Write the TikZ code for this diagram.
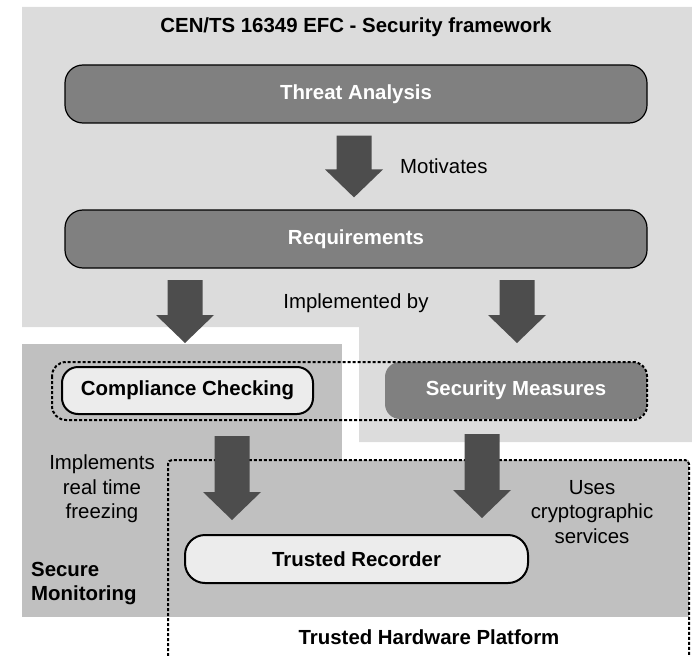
\documentclass[tikz,border=0pt]{standalone}
\usepackage{fontspec}
\setmainfont{Liberation Sans}
\usetikzlibrary{calc}
\definecolor{lightbg}{HTML}{DCDCDC}
\definecolor{midbg}{HTML}{C0C0C0}
\definecolor{boxdark}{HTML}{808080}
\definecolor{boxlight}{HTML}{ECECEC}
\definecolor{arrowc}{HTML}{4D4D4D}
\newcommand\blkarrow[2]{\fill[arrowc] let \p1=(#1), \p2=(#2) in
  (\x1-17.5pt,\y1) -- (\x1+17.5pt,\y1) -- (\x1+17.5pt,\y2+28pt) -- (\x1+29pt,\y2+28pt)
  -- (\x1,\y2) -- (\x1-29pt,\y2+28pt) -- (\x1-17.5pt,\y2+28pt) -- cycle;}
\begin{document}
\begin{tikzpicture}[x=1pt,y=-1pt,
  txt/.style={font=\fontsize{20.4}{24.5}\selectfont, inner sep=0pt},
  btxt/.style={font=\fontsize{20.4}{24.5}\selectfont\bfseries, inner sep=0pt},
  darkbox/.style={draw=black, line width=1.2pt, fill=boxdark, rounded corners=18pt,
    text=white, btxt, minimum width=582pt, minimum height=58pt},
  lightbox/.style={draw=black, line width=2pt, fill=boxlight, rounded corners=16pt,
    btxt},
  dotline/.style={line width=2pt, dash pattern=on 3pt off 2pt}]
\useasboundingbox (0,0) rectangle (692,655);
% background regions
\fill[lightbg] (22,7) -- (692,7) -- (692,442) -- (359,442) -- (359,327) -- (22,327) -- cycle;
\fill[midbg] (22,344) rectangle (342,617);
\fill[midbg] (168,460) rectangle (689,617);
% texts
\node[btxt] (title) at (356,27) {CEN/TS 16349 EFC - Security framework};
\node[darkbox] (ta) at (356,94) {Threat Analysis};
\node[darkbox] (req) at (356,239) {Requirements};
\node[txt, anchor=west] (motiv) at (400,166) {Motivates};
\node[txt] (implby) at (356,303) {Implemented by};
\node[lightbox, minimum width=251pt, minimum height=47pt] (cc) at (187.5,390.5) {Compliance Checking};
\node[fill=boxdark, rounded corners=15pt, text=white, btxt, minimum width=262pt, minimum height=57pt] (sm) at (516,390.5) {Security Measures};
\draw[dotline, rounded corners=14pt] (52,362) rectangle (647,420);
\node[lightbox, minimum width=343pt, minimum height=48pt, rounded corners=20pt] (tr) at (356.5,559) {Trusted Recorder};
\node[txt, align=center] (impl) at (102,489) {Implements\\real time\\freezing};
\node[txt, align=center] (uses) at (592,512) {Uses\\cryptographic\\services};
\node[btxt, align=left, anchor=west] (secmon) at (31,583.5) {Secure\\Monitoring};
\node[btxt] (thp) at (429,637) {Trusted Hardware Platform};
\draw[dotline, rounded corners=4pt] (168,656) -- (168,460) -- (689,460) -- (689,656);
% arrows
\coordinate (a1s) at ($(ta.south)+(-2,12)$);
\coordinate (a1e) at ($(req.north)+(-2,-12)$);
\coordinate (a2s) at (185,280);
\coordinate (a2e) at (185,343);
\coordinate (a3s) at (517,280);
\coordinate (a3e) at (517,343);
\coordinate (a4s) at (232,436);
\coordinate (a4e) at (232,520);
\coordinate (a5s) at (482,434);
\coordinate (a5e) at (482,518);
\blkarrow{a1s}{a1e}
\blkarrow{a2s}{a2e}
\blkarrow{a3s}{a3e}
\blkarrow{a4s}{a4e}
\blkarrow{a5s}{a5e}
\end{tikzpicture}
\end{document}
